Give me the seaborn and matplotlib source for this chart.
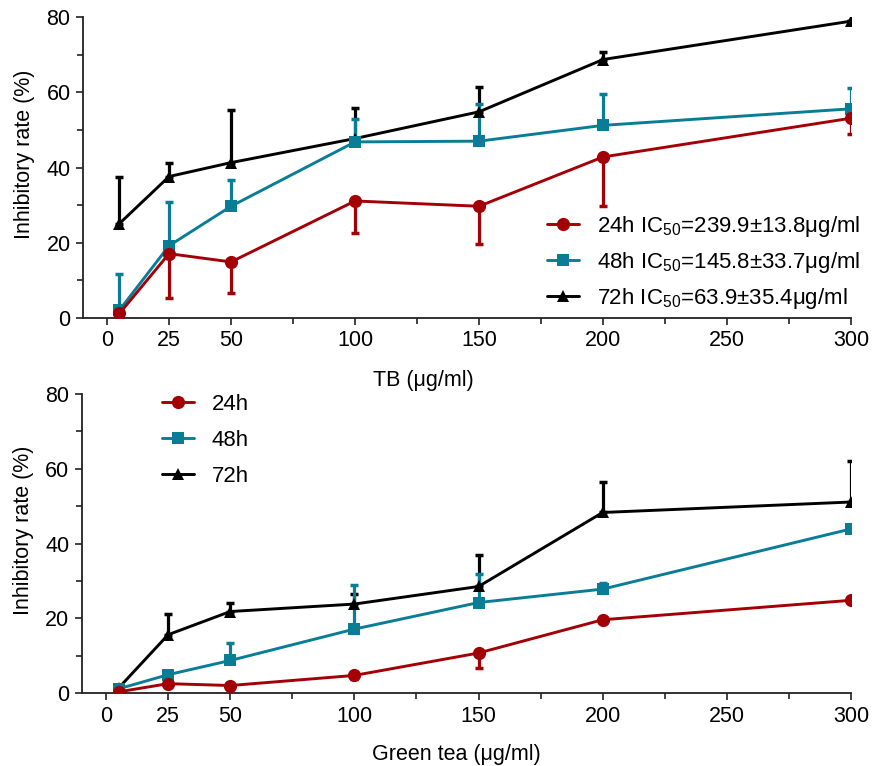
import numpy as np
import pandas as pd
import matplotlib
matplotlib.use("Agg")
import matplotlib.pyplot as plt
import seaborn as sns

# concentrations (ug/ml)
conc = [5, 25, 50, 100, 150, 200, 300]
times = ["24h", "48h", "72h"]

# TB panel: mean and SD
tb_24 = [1.2, 17.1, 14.9, 31.1, 29.7, 42.8, 53.1]
tb_24_sd = [0.0, 11.7, 8.3, 8.4, 9.9, 13.0, 4.3]
tb_48 = [2.1, 19.2, 29.7, 46.8, 47.0, 51.2, 55.6]
tb_48_sd = [9.6, 11.7, 7.0, 6.2, 9.8, 8.4, 5.6]
tb_72 = [25.1, 37.6, 41.3, 47.7, 54.8, 68.7, 78.9]
tb_72_sd = [12.5, 3.5, 14.0, 8.0, 6.6, 2.0, 0.0]

# Green tea panel: mean and SD
gt_24 = [0.3, 2.5, 2.0, 4.7, 10.7, 19.6, 24.8]
gt_24_sd = [0.0, 0.8, 1.0, 1.0, 3.9, 0.5, 0.5]
gt_48 = [1.1, 4.9, 8.7, 17.1, 24.2, 27.8, 43.9]
gt_48_sd = [0.5, 1.0, 4.7, 11.7, 7.6, 1.6, 0.0]
gt_72 = [1.3, 15.6, 21.8, 23.8, 28.5, 48.3, 51.1]
gt_72_sd = [0.0, 5.6, 2.3, 2.7, 8.3, 8.1, 11.0]

tb_labels = ["24h IC$_{50}$=239.9±13.8μg/ml",
             "48h IC$_{50}$=145.8±33.7μg/ml",
             "72h IC$_{50}$=63.9±35.4μg/ml"]
gt_labels = ["24h", "48h", "72h"]

xticks = [0, 25, 50, 100, 150, 200, 250, 300]
yticks = [0, 20, 40, 60, 80]

colors = {"24h": "#A20006", "48h": "#0A7D96", "72h": "#000000"}
markers = {"24h": "o", "48h": "s", "72h": "^"}
msize = {"24h": 9.5, "48h": 9, "72h": 9}
# 24h bars point down, the others up
err_down = {"24h": True, "48h": False, "72h": False}

sns.set_style("ticks")
fam = ["Liberation Sans Narrow", "Liberation Sans", "DejaVu Sans"]
plt.rcParams["font.family"] = fam
plt.rcParams["mathtext.fontset"] = "custom"
plt.rcParams["mathtext.rm"] = "Liberation Sans"
plt.rcParams["mathtext.default"] = "regular"
plt.rcParams["text.color"] = "black"
plt.rcParams["axes.labelcolor"] = "black"
plt.rcParams["xtick.color"] = "black"
plt.rcParams["ytick.color"] = "black"

fig = plt.figure(figsize=(8.73, 7.66), dpi=100)
W, H = 873, 766


def px_axes(l, t, r, b):
    return fig.add_axes([l / W, 1 - b / H, (r - l) / W, (b - t) / H])


ax1 = px_axes(83, 17, 851, 318)
ax2 = px_axes(82, 394, 851, 693)


def draw(ax, means, sds, labels, xlabel, leg_xy, spacing):
    for t in ["72h", "48h", "24h"]:
        df = pd.DataFrame({"conc": conc, "rate": means[t]})
        sns.lineplot(data=df, x="conc", y="rate", ax=ax, color=colors[t],
                     marker=markers[t], markersize=msize[t], linewidth=2.1,
                     markeredgewidth=0, label=labels[times.index(t)], zorder=3)
        sd = np.array(sds[t])
        zero = np.zeros_like(sd)
        yerr = [sd, zero] if err_down[t] else [zero, sd]
        ax.errorbar(conc, means[t], yerr=yerr, fmt="none", ecolor=colors[t],
                    elinewidth=2.3, capsize=2.8, capthick=2.5, zorder=2)
    h, l = ax.get_legend_handles_labels()
    order = [l.index(lab) for lab in labels]
    ax.legend([h[i] for i in order], [l[i] for i in order],
              loc="upper left", bbox_to_anchor=(leg_xy[0] / W, 1 - leg_xy[1] / H),
              bbox_transform=fig.transFigure, frameon=False, fontsize=16,
              handlelength=1.45, handletextpad=0.8, labelspacing=spacing,
              borderpad=0, borderaxespad=0)

    ax.set_xlim(-9.7, 300)
    ax.set_ylim(0, 80)
    ax.set_xticks(xticks)
    ax.set_xticks([75, 125, 175, 225, 275], minor=True)
    ax.set_yticks(yticks)
    ax.set_yticks([10, 30, 50, 70], minor=True)
    ax.tick_params(axis="both", which="major", labelsize=15.5, length=5,
                   width=1.2, direction="out", pad=4, color="#222222")
    ax.tick_params(axis="both", which="minor", length=4, width=1.2,
                   direction="out", color="#222222")
    for side in ["left", "bottom"]:
        ax.spines[side].set_linewidth(1.3)
        ax.spines[side].set_color("#222222")
    sns.despine(ax=ax)
    ax.set_xlabel(xlabel, fontsize=15.5, ha="left", va="center")
    ax.xaxis.set_label_coords((373 - 83) / 768, -62 / 300)
    ax.set_ylabel("Inhibitory rate (%)", fontsize=15.5, va="center")
    ax.yaxis.set_label_coords(-58 / 768, 0.545)


draw(ax1, {"24h": tb_24, "48h": tb_48, "72h": tb_72},
     {"24h": tb_24_sd, "48h": tb_48_sd, "72h": tb_72_sd},
     tb_labels, "TB (μg/ml)", (547, 214), 0.5)
draw(ax2, {"24h": gt_24, "48h": gt_48, "72h": gt_72},
     {"24h": gt_24_sd, "48h": gt_48_sd, "72h": gt_72_sd},
     gt_labels, "Green tea (μg/ml)", (162, 394), 0.68)

fig.savefig("out.png", dpi=100)
